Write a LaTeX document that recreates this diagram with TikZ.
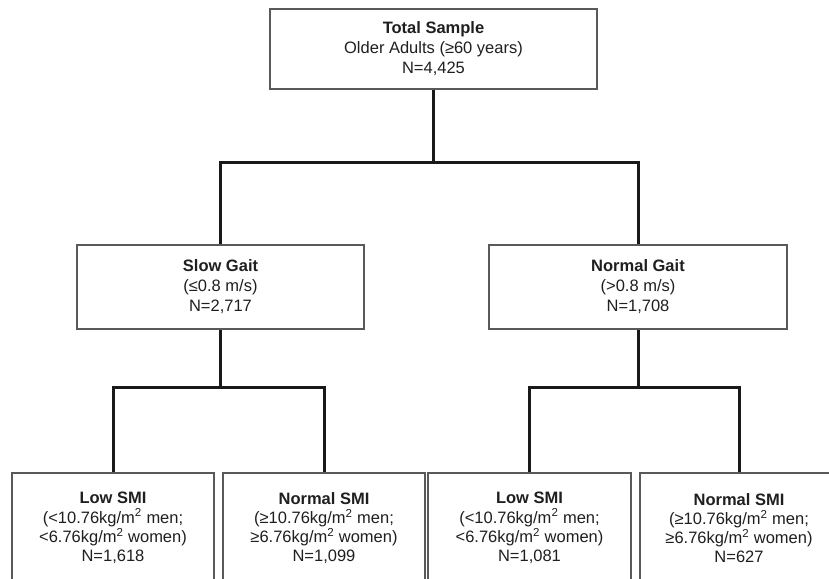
\documentclass[tikz,border=0pt]{standalone}
\usepackage{fontspec}
\setmainfont{Liberation Sans}
\begin{document}
\begin{tikzpicture}[x=1pt,y=-1pt,
  box/.style={draw=black!65,line width=1.1pt,fill=white,align=center,inner sep=0pt,
    font=\fontsize{16.5}{20}\selectfont,text=black!88},
  sbox/.style={box,font=\fontsize{16.5}{19.2}\selectfont},
  link/.style={line width=3pt,black!90,line join=miter}]
\useasboundingbox (0,0) rectangle (829,578);
\clip (0,0) rectangle (829,578);
% top
\node[box,minimum width=327pt,minimum height=80pt] (top) at (433.5,49)
  {\textbf{Total Sample}\\Older Adults (≥60 years)\\N=4,425};
\node[box,minimum width=287pt,minimum height=84pt] (slow) at (220.5,287)
  {\textbf{Slow Gait}\\(≤0.8 m/s)\\N=2,717};
\node[box,minimum width=298pt,minimum height=84pt] (norm) at (638,287)
  {\textbf{Normal Gait}\\(>0.8 m/s)\\N=1,708};
\node[sbox,minimum width=202pt,minimum height=110pt] (b1) at (113,528)
  {\textbf{Low SMI}\\(<10.76kg/m\textsuperscript{2} men;\\<6.76kg/m\textsuperscript{2} women)\\N=1,618};
\node[sbox,minimum width=202pt,minimum height=110pt] (b2) at (324,528)
  {\textbf{Normal SMI}\\(≥10.76kg/m\textsuperscript{2} men;\\≥6.76kg/m\textsuperscript{2} women)\\N=1,099};
\node[sbox,minimum width=203pt,minimum height=110pt] (b3) at (529.5,528)
  {\textbf{Low SMI}\\(<10.76kg/m\textsuperscript{2} men;\\<6.76kg/m\textsuperscript{2} women)\\N=1,081};
\node[sbox,minimum width=198pt,minimum height=110pt] (b4) at (739,528)
  {\textbf{Normal SMI}\\(≥10.76kg/m\textsuperscript{2} men;\\≥6.76kg/m\textsuperscript{2} women)\\N=627};
% junctions
\coordinate (j0) at (433.5,162);
\coordinate (j1) at (220.5,387);
\coordinate (j2) at (638,387);
\draw[link] (top.south) -- (j0);
\draw[link] (slow.north) |- (j0) -| (norm.north);
\draw[link] (slow.south) -- (j1);
\draw[link] (b1.north) |- (j1) -| (b2.north);
\draw[link] (norm.south) -- (j2);
\draw[link] (b3.north) |- (j2) -| (b4.north);
\end{tikzpicture}
\end{document}
